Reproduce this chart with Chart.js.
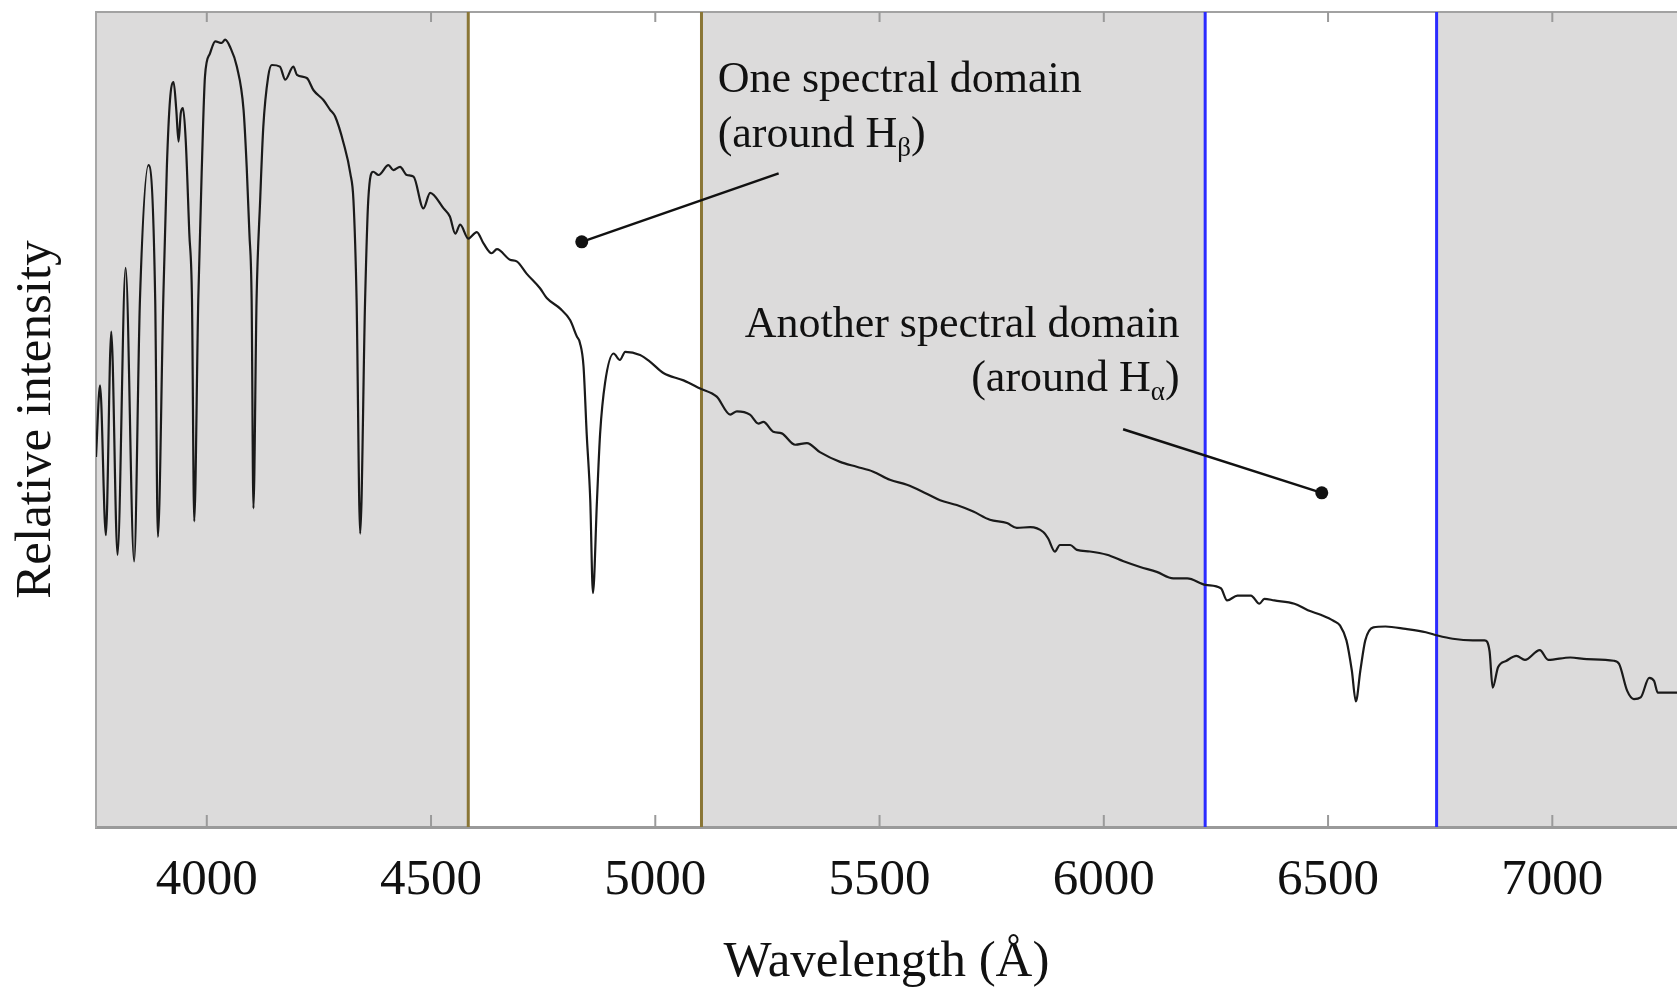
<!DOCTYPE html>
<html lang="en">
<head>
<meta charset="UTF-8" />
<title>Spectrum - two spectral domains</title>
<script src="https://cdn.jsdelivr.net/npm/chart.js"></script>
<style>
    html, body { margin: 0; padding: 0; background: #fff; overflow: hidden; }
    #spectrumChart { display: block; }
</style>
</head>
<body>
<canvas id="spectrumChart" width="1677" height="988"></canvas>

<script>
    // Wavelength (Å) and relative intensity (0-100)
    const wavelength = [
        3753, 3762, 3775, 3787, 3801, 3819, 3838, 3851, 3870, 3885,
        3891, 3903, 3911, 3918, 3926, 3932, 3937, 3942, 3947, 3953,
        3961, 3967, 3972, 3981, 3989, 3996, 4007, 4019, 4033, 4041,
        4052, 4067, 4082, 4089, 4095, 4100, 4104, 4111, 4119, 4126,
        4137, 4145, 4163, 4175, 4193, 4201, 4223, 4238, 4260, 4275,
        4286, 4305, 4320, 4327, 4334, 4342, 4353, 4360, 4371, 4383,
        4405, 4416, 4431, 4446, 4461, 4483, 4498, 4528, 4542, 4554,
        4565, 4583, 4602, 4617, 4635, 4647, 4676, 4691, 4713, 4743,
        4758, 4788, 4810, 4825, 4832, 4840, 4847, 4855, 4861, 4870,
        4877, 4888, 4907, 4921, 4933, 4966, 4988, 5018, 5063, 5100,
        5137, 5167, 5182, 5211, 5230, 5241, 5263, 5282, 5312, 5338,
        5367, 5412, 5449, 5486, 5523, 5561, 5605, 5635, 5672, 5709,
        5746, 5784, 5806, 5836, 5865, 5876, 5891, 5902, 5925, 5940,
        5969, 6007, 6044, 6081, 6118, 6155, 6186, 6227, 6261, 6275,
        6298, 6328, 6347, 6358, 6380, 6425, 6455, 6485, 6512, 6527,
        6541, 6553, 6562, 6572, 6583, 6601, 6628, 6673, 6718, 6744,
        6778, 6823, 6849, 6860, 6867, 6879, 6898, 6920, 6939, 6972,
        6991, 7040, 7077, 7137, 7149, 7167, 7182, 7197, 7216, 7227,
        7235, 7257, 7278
    ];
    const intensity = [
        45.4, 54.2, 35.8, 60.8, 33.4, 68.6, 32.6, 64.7, 81.2, 64.7,
        35.6, 64.7, 81.0, 89.2, 91.4, 88.0, 84.1, 87.6, 88.2, 84.3,
        72.9, 64.7, 37.5, 64.7, 81.0, 92.1, 94.9, 96.4, 96.2, 96.6,
        95.7, 93.3, 88.0, 81.0, 72.9, 64.7, 39.1, 64.7, 76.9, 85.9,
        92.1, 93.5, 93.3, 91.7, 93.3, 92.3, 91.9, 90.4, 89.2, 88.0,
        87.2, 83.9, 80.2, 76.9, 64.7, 36.0, 64.7, 76.9, 80.4, 80.0,
        81.2, 80.6, 81.0, 80.0, 79.8, 75.9, 77.8, 75.9, 74.9, 72.8,
        73.9, 72.2, 73.0, 71.6, 70.4, 70.9, 69.6, 69.4, 67.9, 66.1,
        64.9, 63.6, 62.2, 60.2, 59.4, 56.5, 48.3, 40.1, 28.7, 40.1,
        48.3, 54.5, 58.1, 57.3, 58.3, 57.9, 57.1, 55.7, 54.8, 53.8,
        52.8, 50.6, 51.0, 50.6, 49.5, 49.7, 48.5, 48.3, 46.9, 47.1,
        46.0, 44.8, 44.2, 43.6, 42.6, 42.0, 40.9, 40.1, 39.5, 38.7,
        37.7, 37.3, 36.7, 36.8, 36.2, 35.4, 33.8, 34.6, 34.6, 34.0,
        33.8, 33.4, 32.6, 31.9, 31.3, 30.5, 30.5, 29.7, 29.3, 27.8,
        28.4, 28.4, 27.4, 28.0, 27.8, 27.4, 26.6, 26.0, 25.3, 24.7,
        22.9, 19.2, 15.4, 19.2, 22.9, 24.5, 24.6, 24.3, 23.9, 23.5,
        23.1, 22.9, 22.9, 21.6, 17.1, 19.6, 20.4, 21.0, 20.5, 21.7,
        20.5, 20.8, 20.6, 20.4, 20.0, 16.7, 15.7, 15.9, 18.3, 17.9,
        16.5, 16.5, 16.5
    ];

    const xTicks = [4000, 4500, 5000, 5500, 6000, 6500, 7000];
    const xRange = [3753, 7278];
    const yRange = [0, 100];

    // spectral domains [start, end] in Å
    const domainBeta = [4583, 5103];
    const domainAlpha = [6226, 6742];

    // label pointers (Å, intensity)
    const pointerBetaX = [4836, 5275];
    const pointerBetaY = [71.8, 80.2];
    const pointerAlphaX = [6043, 6486];
    const pointerAlphaY = [48.8, 41.0];

    const SERIF = '"Liberation Serif", "Times New Roman", serif';

    const toPoints = (xs, ys) => xs.map((x, i) => ({ x: x, y: ys[i] }));
    const edgeLine = (x) => [{ x: x, y: yRange[0] }, { x: x, y: yRange[1] }];

    // grey plot area with white spectral domains
    const backdrop = {
        id: "backdrop",
        beforeDraw(chart) {
            const { ctx, chartArea: a, scales: { x } } = chart;
            ctx.save();
            ctx.fillStyle = "#dcdbdb";
            ctx.fillRect(a.left, a.top, a.right - a.left, a.bottom - a.top);
            ctx.fillStyle = "#ffffff";
            [domainBeta, domainAlpha].forEach((d) => {
                const x0 = x.getPixelForValue(d[0]);
                const x1 = x.getPixelForValue(d[1]);
                ctx.fillRect(x0, a.top, x1 - x0, a.bottom - a.top);
            });
            ctx.restore();
        },
        beforeDatasetsDraw(chart) {
            const { ctx, chartArea: a, scales: { x } } = chart;
            ctx.save();
            // top frame
            ctx.strokeStyle = "#a2a2a2";
            ctx.lineWidth = 2;
            ctx.beginPath();
            ctx.moveTo(a.left, a.top);
            ctx.lineTo(a.right, a.top);
            ctx.stroke();
            // inward tick marks, bottom and top
            ctx.strokeStyle = "#9a9a9a";
            x.ticks.forEach((t) => {
                const px = x.getPixelForValue(t.value);
                ctx.beginPath();
                ctx.moveTo(px, a.bottom);
                ctx.lineTo(px, a.bottom - 12);
                ctx.moveTo(px, a.top);
                ctx.lineTo(px, a.top + 10);
                ctx.stroke();
            });
            ctx.restore();
        },
    };

    // text labels with a subscript
    function drawLabel(ctx, pre, sub, post, px, py, align) {
        const big = "44px " + SERIF;
        const small = "27px " + SERIF;
        ctx.font = big;
        const w1 = ctx.measureText(pre).width;
        const w3 = ctx.measureText(post).width;
        ctx.font = small;
        const w2 = ctx.measureText(sub).width;
        let x0 = align === "right" ? px - (w1 + w2 + w3) : px;
        ctx.textBaseline = "alphabetic";
        ctx.textAlign = "left";
        ctx.font = big;
        ctx.fillText(pre, x0, py);
        ctx.font = small;
        ctx.fillText(sub, x0 + w1, py + 9);
        ctx.font = big;
        ctx.fillText(post, x0 + w1 + w2, py);
    }

    const labels = {
        id: "labels",
        afterDatasetsDraw(chart) {
            const { ctx, scales: { x, y } } = chart;
            ctx.save();
            ctx.fillStyle = "#111";
            drawLabel(ctx, "One spectral domain", "", "", x.getPixelForValue(5139), y.getPixelForValue(90.2), "left");
            drawLabel(ctx, "(around H", "\u03b2", ")", x.getPixelForValue(5139), y.getPixelForValue(83.4), "left");
            drawLabel(ctx, "Another spectral domain", "", "", x.getPixelForValue(6169), y.getPixelForValue(60.1), "right");
            drawLabel(ctx, "(around H", "\u03b1", ")", x.getPixelForValue(6169), y.getPixelForValue(53.5), "right");
            ctx.restore();
        },
    };

    const ctx = document.getElementById("spectrumChart").getContext("2d");
    new Chart(ctx, {
        type: "line",
        data: {
            datasets: [
                {
                    label: "Spectrum",
                    data: toPoints(wavelength, intensity),
                    borderColor: "#1a1a1a",
                    borderWidth: 2.2,
                    pointRadius: 0,
                    cubicInterpolationMode: "monotone",
                    order: 0,
                },
                { data: edgeLine(domainBeta[0]), borderColor: "#8a7636", borderWidth: 3, pointRadius: 0, order: 2 },
                { data: edgeLine(domainBeta[1]), borderColor: "#8a7636", borderWidth: 3, pointRadius: 0, order: 2 },
                { data: edgeLine(domainAlpha[0]), borderColor: "#2b2bff", borderWidth: 3, pointRadius: 0, order: 2 },
                { data: edgeLine(domainAlpha[1]), borderColor: "#2b2bff", borderWidth: 3, pointRadius: 0, order: 2 },
                {
                    data: toPoints(pointerBetaX, pointerBetaY),
                    borderColor: "#111",
                    backgroundColor: "#111",
                    borderWidth: 2.5,
                    pointRadius: [6.5, 0],
                    pointBorderWidth: 0,
                    order: 1,
                },
                {
                    data: toPoints(pointerAlphaX, pointerAlphaY),
                    borderColor: "#111",
                    backgroundColor: "#111",
                    borderWidth: 2.5,
                    pointRadius: [0, 6.5],
                    pointBorderWidth: 0,
                    order: 1,
                },
            ],
        },
        options: {
            responsive: false,
            animation: false,
            events: [],
            layout: { autoPadding: false, padding: { top: 12, right: 0, left: 0, bottom: 0 } },
            plugins: {
                legend: { display: false },
                tooltip: { enabled: false },
            },
            scales: {
                x: {
                    type: "linear",
                    min: xRange[0],
                    max: xRange[1],
                    grid: { display: false, drawTicks: false },
                    border: { display: true, color: "#9a9a9a", width: 3 },
                    afterBuildTicks: (scale) => {
                        scale.ticks = xTicks.map((v) => ({ value: v }));
                    },
                    afterFit: (scale) => {
                        scale.height = 161;
                    },
                    ticks: {
                        includeBounds: false,
                        maxRotation: 0,
                        autoSkip: false,
                        padding: 23,
                        color: "#111",
                        font: { family: SERIF, size: 51 },
                        callback: (v) => String(v),
                    },
                    title: {
                        display: true,
                        text: "Wavelength (\u00c5)",
                        color: "#111",
                        font: { family: SERIF, size: 51, lineHeight: 1.0 },
                        padding: { top: 0, bottom: 0 },
                    },
                },
                y: {
                    type: "linear",
                    min: yRange[0],
                    max: yRange[1],
                    grid: { display: false, drawTicks: false },
                    border: { display: true, color: "#a6a6a6", width: 2 },
                    ticks: { display: false },
                    afterFit: (scale) => {
                        scale.width = 96;
                    },
                    title: {
                        display: true,
                        text: "Relative intensity",
                        color: "#111",
                        font: { family: SERIF, size: 51, lineHeight: 1.0 },
                        padding: { top: 11, bottom: 0 },
                    },
                },
            },
        },
        plugins: [backdrop, labels],
    });
</script>
</body>
</html>
